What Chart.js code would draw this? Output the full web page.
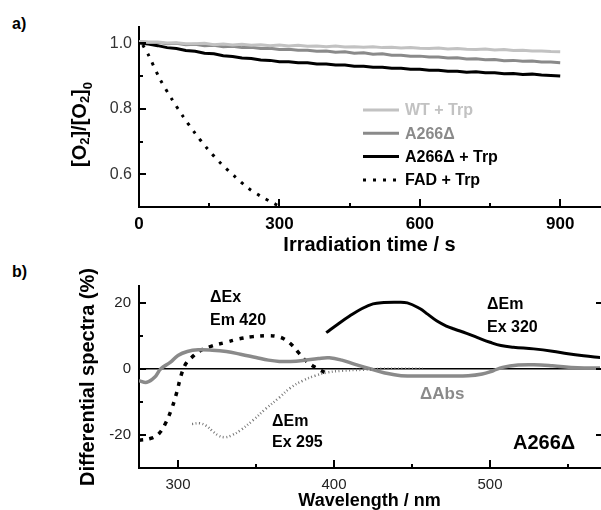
<!DOCTYPE html>
<html>
<head>
<meta charset="utf-8">
<script src="https://cdn.jsdelivr.net/npm/chart.js@4.4.1/dist/chart.umd.min.js"></script>
<style>
  body { margin: 0; background: #fff; }
  #wrap { position: relative; width: 601px; height: 510px; font-family: "Liberation Sans", Arial, sans-serif; }
  canvas { position: absolute; left: 0; }
  #ca { top: 0; }
  #cb { top: 255px; }
  .tag { position: absolute; left: 12px; font-weight: bold; font-size: 16px; line-height: 16px; }
</style>
</head>
<body>
<div id="wrap">
  <div class="tag" style="top:16px">a)</div>
  <div class="tag" style="top:264px">b)</div>
  <canvas id="ca" width="601" height="255"></canvas>
  <canvas id="cb" width="601" height="255"></canvas>
</div>
<script>
// panel a: oxygen consumption
const times = [0,20,40,60,80,100,120,140,160,180,200,220,240,260,280,300,320,340,360,380,400,420,440,460,480,500,520,540,560,580,600,620,640,660,680,700,720,740,760,780,800,820,840,860,880,900];
const wtTrp = [1.006,1.004,1.004,1.001,1.002,0.999,0.999,1.000,0.996,0.998,0.995,0.997,0.994,0.996,0.993,0.995,0.992,0.994,0.991,0.992,0.990,0.992,0.989,0.990,0.988,0.990,0.987,0.988,0.986,0.987,0.985,0.984,0.986,0.983,0.984,0.982,0.981,0.983,0.980,0.981,0.978,0.979,0.977,0.977,0.975,0.974];
const a266 = [1.005,1.003,1.003,0.999,1.000,0.996,0.997,0.993,0.994,0.990,0.991,0.987,0.988,0.984,0.985,0.981,0.982,0.979,0.979,0.976,0.977,0.973,0.974,0.970,0.971,0.967,0.968,0.964,0.964,0.961,0.961,0.958,0.958,0.955,0.956,0.952,0.953,0.950,0.951,0.947,0.948,0.945,0.946,0.943,0.943,0.941];
const a266Trp = [1.001,0.998,0.993,0.987,0.984,0.978,0.976,0.970,0.968,0.962,0.960,0.955,0.954,0.949,0.948,0.944,0.944,0.941,0.941,0.937,0.937,0.934,0.934,0.930,0.930,0.927,0.927,0.924,0.924,0.921,0.921,0.918,0.918,0.915,0.915,0.912,0.913,0.910,0.910,0.907,0.908,0.905,0.906,0.903,0.902,0.900];
const fadTimes = [8,20,45,70,95,120,145,175,205,233,260,287,300];
const fadTrp = [0.995,0.965,0.89,0.83,0.775,0.725,0.68,0.633,0.593,0.558,0.533,0.512,0.502];
const aTicksX = [0,300,600,900], aMinorX = [150,450,750];
const aTicksY = [0.6,0.8,1.0], aMinorY = [0.7,0.9];

// panel b: differential spectra
const absWl = [275,280,285,289,295,300,306,313,322,331,340,350,358,365,372,380,390,397,405,413,423,432,443,460,486,495,502,508,518,528,540,556,571];
const absVal = [-3.6,-4.1,-2.6,0,1.9,4.0,5.2,5.7,5.6,5.2,4.4,3.4,2.6,2.2,2.2,2.5,3.1,3.3,2.6,1.4,0,-1.2,-2.1,-2.2,-2.1,-1.6,-0.6,0.4,1.1,1.2,0.9,0.3,0.2];
const exWl = [275,283,288,292,296,299,302,305,309,314,322,330,339,348,357,363,368,373,377,382,388,394];
const exVal = [-21.6,-21,-19.5,-16.5,-12,-7.5,-2,1.5,3.5,5.4,6.9,7.9,9.0,9.7,10.0,9.8,9.0,7.2,5.0,2.4,0.4,-1.1];
const em295Wl = [309,314,318,322,326,330,334,340,348,356,365,372,380,388,395,405,419,432,445,457];
const em295Val = [-16.7,-16.5,-17.2,-18.8,-20.2,-20.7,-20.2,-18.6,-15.6,-12.2,-8.7,-5.8,-3.6,-2.1,-1.2,-0.6,-0.3,0,0,0];
const em320Wl = [395,402,410,418,425,432,440,447,455,460,466,472,477,485,492,500,507,515,528,540,550,560,571];
const em320Val = [10.9,13.3,15.9,18.2,19.6,20.0,20.1,19.9,18.2,16.5,14.4,12.9,12.0,10.7,9.4,8.0,7.0,6.5,6.0,5.3,4.5,3.9,3.4];
const bTicksX = [300,400,500], bMinorX = [350,450,550];
const bTicksY = [-20,0,20], bMinorY = [-10,10];

const FONT = '"Liberation Sans", Arial, sans-serif';
Chart.defaults.font.family = FONT;
Chart.defaults.color = '#000';

const pts = (xs, ys) => xs.map((x, i) => ({ x: x, y: ys[i] }));
const fixTicks = list => scale => { scale.ticks = list.map(v => ({ value: v })); };

// tick marks drawn inside the frame
const innerTicks = {
  id: 'innerTicks',
  afterDatasetsDraw(chart, args, o) {
    const { ctx, chartArea: a, scales: { x, y } } = chart;
    ctx.save();
    ctx.strokeStyle = '#000';
    ctx.lineWidth = 2;
    const seg = (x1, y1, x2, y2) => { ctx.beginPath(); ctx.moveTo(x1, y1); ctx.lineTo(x2, y2); ctx.stroke(); };
    o.xMajor.forEach(v => { const p = Math.round(x.getPixelForValue(v)); seg(p, a.bottom, p, a.bottom - 8); });
    o.xMinor.forEach(v => { const p = Math.round(x.getPixelForValue(v)); seg(p, a.bottom, p, a.bottom - 4); });
    o.yMajor.forEach(v => { const p = Math.round(y.getPixelForValue(v)); seg(a.left, p, a.left + 7, p); });
    o.yMinor.forEach(v => { const p = Math.round(y.getPixelForValue(v)); seg(a.left, p, a.left + 4, p); });
    if (o.right) {
      o.yMajor.forEach(v => { const p = Math.round(y.getPixelForValue(v)); seg(a.right + 1, p, a.right - 4, p); });
    }
    ctx.restore();
  }
};

// legend inside the plot of panel a
const innerLegend = {
  id: 'innerLegend',
  afterDraw(chart, args, o) {
    if (!o.display) return;
    const { ctx, chartArea: a } = chart;
    ctx.save();
    ctx.font = 'bold 16px ' + FONT;
    ctx.textBaseline = 'middle';
    chart.data.datasets.forEach((ds, i) => {
      const yy = a.top + 83 + i * 23.3;
      const x0 = a.left + 224;
      ctx.strokeStyle = ds.borderColor;
      ctx.lineWidth = ds.borderWidth;
      ctx.setLineDash(ds.borderDash || []);
      ctx.beginPath(); ctx.moveTo(x0, yy); ctx.lineTo(x0 + 36, yy); ctx.stroke();
      ctx.setLineDash([]);
      ctx.fillStyle = ds.borderColor;
      ctx.fillText(ds.label, x0 + 42, yy + 1);
    });
    ctx.restore();
  }
};

// rotated y title with real subscripts
const subTitle = {
  id: 'subTitle',
  afterDraw(chart, args, o) {
    if (!o.parts) return;
    const { ctx, chartArea: a } = chart;
    ctx.save();
    ctx.translate(o.x, (a.top + a.bottom) / 2 + o.dy);
    ctx.rotate(-Math.PI / 2);
    ctx.fillStyle = '#000';
    ctx.textBaseline = 'alphabetic';
    const fontOf = p => 'bold ' + (p.sub ? o.subSize : o.size) + 'px ' + FONT;
    let w = 0;
    o.parts.forEach(p => { ctx.font = fontOf(p); w += ctx.measureText(p.t).width; });
    let cx = -w / 2;
    o.parts.forEach(p => {
      ctx.font = fontOf(p);
      ctx.fillText(p.t, cx, p.sub || 0);
      cx += ctx.measureText(p.t).width;
    });
    ctx.restore();
  }
};

// free text labels
const notes = {
  id: 'notes',
  afterDraw(chart, args, o) {
    const ctx = chart.ctx;
    ctx.save();
    ctx.textBaseline = 'middle';
    (o.items || []).forEach(n => {
      ctx.font = 'bold ' + (n.size || 16) + 'px ' + FONT;
      ctx.fillStyle = n.color || '#000';
      ctx.fillText(n.text, n.x, n.y);
    });
    ctx.restore();
  }
};

new Chart(document.getElementById('ca'), {
  type: 'line',
  data: {
    datasets: [
      { label: 'WT + Trp', data: pts(times, wtTrp), borderColor: '#c2c2c2', borderWidth: 3 },
      { label: 'A266\u0394', data: pts(times, a266), borderColor: '#8a8a8a', borderWidth: 3 },
      { label: 'A266\u0394 + Trp', data: pts(times, a266Trp), borderColor: '#000', borderWidth: 3 },
      { label: 'FAD + Trp', data: pts(fadTimes, fadTrp), borderColor: '#000', borderWidth: 3, borderDash: [3, 7], tension: 0.3 }
    ]
  },
  options: {
    responsive: false,
    animation: false,
    elements: { point: { radius: 0 }, line: { tension: 0 } },
    layout: { padding: { top: 27, right: 1, left: 0, bottom: 0 } },
    plugins: {
      legend: { display: false },
      tooltip: { enabled: false },
      innerLegend: { display: true },
      innerTicks: { xMajor: aTicksX, xMinor: aMinorX, yMajor: aTicksY, yMinor: aMinorY },
      subTitle: {
        x: 86, dy: 7.5, size: 20, subSize: 13,
        parts: [{ t: '[O' }, { t: '2', sub: 3 }, { t: ']/[O' }, { t: '2', sub: 3 }, { t: ']' }, { t: '0', sub: 6 }]
      }
    },
    scales: {
      x: {
        type: 'linear', min: 0, max: 985,
        afterBuildTicks: fixTicks(aTicksX),
        afterFit: s => { s.height = 48; },
        grid: { display: false, drawTicks: false },
        border: { display: true, color: '#000', width: 2 },
        ticks: { padding: 7, font: { size: 17, weight: 'bold' }, color: '#000' },
        title: { display: true, text: 'Irradiation time / s', font: { size: 20, weight: 'bold', lineHeight: 1 }, padding: 0 }
      },
      y: {
        min: 0.5, max: 1.05,
        afterBuildTicks: fixTicks(aTicksY),
        afterFit: s => { s.width = 139; },
        grid: { display: false, drawTicks: false },
        border: { display: true, color: '#000', width: 2 },
        ticks: { padding: 7, font: { size: 16 }, color: '#333', callback: v => v.toFixed(1) }
      }
    }
  },
  plugins: [innerTicks, innerLegend, subTitle]
});

new Chart(document.getElementById('cb'), {
  type: 'line',
  data: {
    datasets: [
      { label: '\u0394Em Ex 295', data: pts(em295Wl, em295Val), borderColor: '#777', borderWidth: 2.5, borderDash: [1, 2.5] },
      { label: '\u0394Abs', data: pts(absWl, absVal), borderColor: '#8a8a8a', borderWidth: 3.5 },
      { label: '\u0394Ex Em 420', data: pts(exWl, exVal), borderColor: '#000', borderWidth: 3.5, borderDash: [4, 6.5] },
      { label: '\u0394Em Ex 320', data: pts(em320Wl, em320Val), borderColor: '#000', borderWidth: 3 }
    ]
  },
  options: {
    responsive: false,
    animation: false,
    elements: { point: { radius: 0 }, line: { tension: 0.4 } },
    layout: { padding: { top: 31, right: 1, left: 0, bottom: 0 } },
    plugins: {
      legend: { display: false },
      tooltip: { enabled: false },
      innerTicks: { xMajor: bTicksX, xMinor: bMinorX, yMajor: bTicksY, yMinor: bMinorY, right: true },
      notes: {
        items: [
          { text: '\u0394Ex', x: 210, y: 43 },
          { text: 'Em 420', x: 210, y: 66 },
          { text: '\u0394Em', x: 487, y: 50 },
          { text: 'Ex 320', x: 487, y: 73 },
          { text: '\u0394Em', x: 272, y: 167 },
          { text: 'Ex 295', x: 272, y: 188 },
          { text: '\u0394Abs', x: 420, y: 139, color: '#8a8a8a', size: 17 },
          { text: 'A266\u0394', x: 513, y: 188, size: 20 }
        ]
      }
    },
    scales: {
      x: {
        type: 'linear', min: 275, max: 570.5,
        afterBuildTicks: fixTicks(bTicksX),
        afterFit: s => { s.height = 42; },
        grid: { display: false, drawTicks: false },
        border: { display: true, color: '#000', width: 2 },
        ticks: { padding: 8, font: { size: 15 }, color: '#222' },
        title: { display: true, text: 'Wavelength / nm', font: { size: 18, weight: 'bold', lineHeight: 1 }, padding: 0 }
      },
      y: {
        min: -30, max: 25,
        afterBuildTicks: fixTicks(bTicksY),
        afterFit: s => { s.width = 139; },
        grid: { display: true, drawTicks: false, lineWidth: 1.5, color: c => c.tick && c.tick.value === 0 ? '#000' : 'rgba(0,0,0,0)' },
        border: { display: true, color: '#000', width: 2 },
        ticks: { padding: 8, font: { size: 15 }, color: '#222' },
        title: { display: true, text: 'Differential spectra (%)', font: { size: 20, weight: 'bold', lineHeight: 1.2 }, padding: { top: 76 } }
      }
    }
  },
  plugins: [innerTicks, notes]
});
</script>
</body>
</html>
